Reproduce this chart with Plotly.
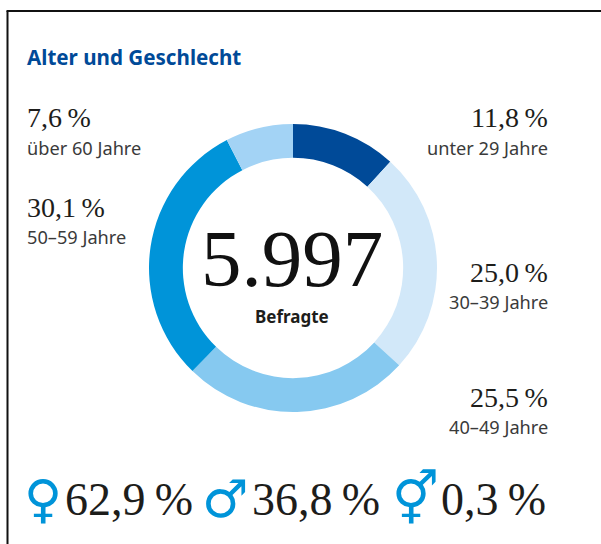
import plotly.graph_objects as go

W, H = 601, 544
categories = ["unter 29 Jahre", "30–39 Jahre", "40–49 Jahre", "50–59 Jahre", "über 60 Jahre"]
values = [11.8, 25.0, 25.5, 30.1, 7.6]
value_labels = ["11,8\u2009%", "25,0\u2009%", "25,5\u2009%", "30,1\u2009%", "7,6\u2009%"]
colors = ["#004a98", "#d2e8f9", "#86c9f0", "#0094d9", "#a3d3f5"]
gender_labels = ["62,9\u2009%", "36,8\u2009%", "0,3\u2009%"]
gender_symbols = ["♀", "♂", "⚥"]

SERIF = "Liberation Serif"
SANS = "Noto Sans"
DARK = "#1d1d1b"
SUB = "#3a3a3a"
BLUE = "#0094d9"

fig = go.Figure(go.Pie(
    labels=categories, values=values, sort=False, direction="clockwise", rotation=0,
    hole=0.765, marker=dict(colors=colors, line=dict(width=0)), textinfo="none",
    hoverinfo="label+percent", showlegend=False,
    domain=dict(x=[149 / W, 437 / W], y=[1 - 412 / H, 1 - 124 / H]),
))

def txt(x, y, s, size, color=DARK, font=SERIF, anchor="left"):
    fig.add_annotation(x=x / W, y=1 - y / H, xref="paper", yref="paper", text=s, showarrow=False,
                       xanchor=anchor, yanchor="middle", align=anchor, borderpad=0, borderwidth=0,
                       font=dict(family=font, size=size, color=color))

txt(27, 57, "<b>Alter und Geschlecht</b>", 20.6, "#004a98", SANS)
pos = [(548, 117, 148, "right"), (548, 272, 302, "right"), (548, 397, 427, "right"),
       (27, 207, 237, "left"), (27, 117, 148, "left")]
for (x, y1, y2, a), v, c in zip(pos, value_labels, categories):
    txt(x, y1, v, 28, anchor=a)
    txt(x, y2, c, 18.2, SUB, SANS, a)

txt(292, 259, "5.997", 81, "#111111", anchor="center")
txt(292, 316, "<b>Befragte</b>", 17, DARK, SANS, "center")

for x, s in zip([43, 225, 415], gender_symbols):
    txt(x, 499, "<b>" + s + "</b>", 52, BLUE, "DejaVu Sans", "center")
for x, s in zip([65, 252, 441], gender_labels):
    txt(x, 499, s, 46, anchor="left")

fig.update_layout(
    width=W, height=H, margin=dict(l=0, r=0, t=0, b=0), paper_bgcolor="white",
    shapes=[
        dict(type="line", xref="paper", yref="paper", x0=7.5 / W, x1=7.5 / W, y0=0, y1=1 - 11 / H,
             line=dict(color="#111111", width=2)),
        dict(type="line", xref="paper", yref="paper", x0=6.5 / W, x1=1, y0=1 - 11 / H, y1=1 - 11 / H,
             line=dict(color="#111111", width=2)),
    ],
)
fig.write_html("out.html", config={"displayModeBar": False},
               post_script="document.body.style.margin='0';document.body.style.overflow='hidden';")
